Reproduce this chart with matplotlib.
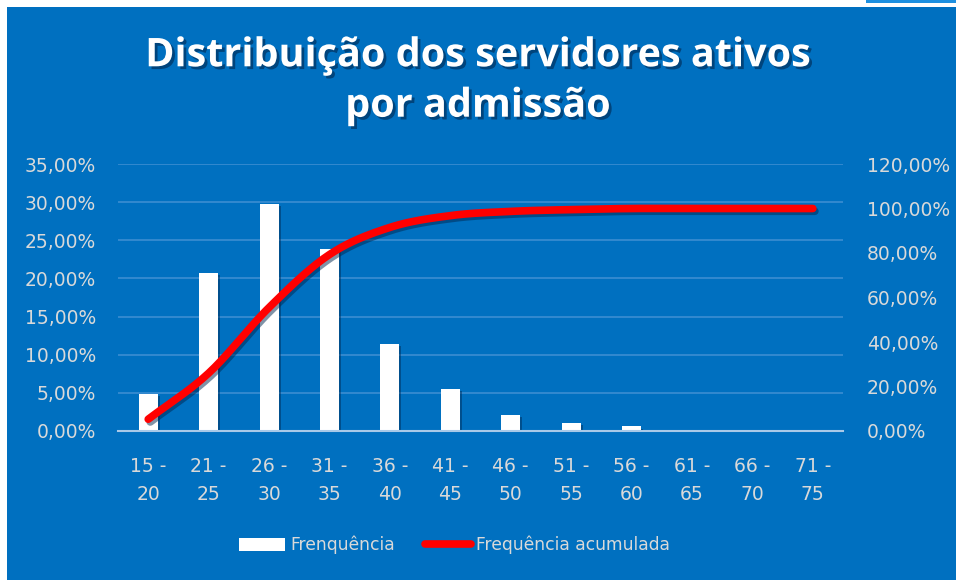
import numpy as np
import matplotlib
matplotlib.use("Agg")
import matplotlib.pyplot as plt
import matplotlib.patheffects as pe
from matplotlib.patches import Rectangle
from matplotlib.lines import Line2D
from matplotlib.ticker import FuncFormatter, MultipleLocator

categories = ["15 -\n20", "21 -\n25", "26 -\n30", "31 -\n35", "36 -\n40", "41 -\n45",
              "46 -\n50", "51 -\n55", "56 -\n60", "61 -\n65", "66 -\n70", "71 -\n75"]
frequencia = [4.85, 20.7, 29.8, 23.8, 11.4, 5.5, 2.1, 1.1, 0.6, 0.1, 0.03, 0.02]
acumulada = [5.3, 26.0, 55.5, 79.3, 91.5, 96.8, 98.7, 99.5, 100.0, 100.0, 100.0, 100.0]

title = "Distribuição dos servidores ativos\npor admissão"
label_freq = "Frenquência"
label_acum = "Frequência acumulada"

BG = "#0070C0"
TXT = "#D9D9D9"
W, H = 956, 580

fig = plt.figure(figsize=(W / 100, H / 100), dpi=100, facecolor="white")
fig.patches.append(Rectangle((7 / W, 0), 1 - 7 / W, 1 - 7 / H, transform=fig.transFigure,
                             facecolor=BG, edgecolor="none", zorder=-10))
fig.patches.append(Rectangle((866 / W, 1 - 3 / H), 1 - 866 / W, 3 / H, transform=fig.transFigure,
                             facecolor="#1E90E0", edgecolor="none", zorder=-10))

ax = fig.add_axes([118 / W, 1 - 431 / H, (843 - 118) / W, (431 - 164) / H])
ax.set_facecolor("none")
x = np.arange(len(categories))

bars = ax.bar(x, frequencia, width=0.315, color="white", zorder=3,
              path_effects=[pe.SimplePatchShadow(offset=(1.5, -1.5), shadow_rgbFace="#002850", alpha=0.45),
                            pe.Normal()])
ax.set_xlim(-0.5, len(categories) - 0.5)
ax.set_ylim(0, 35)
ax.yaxis.set_major_locator(MultipleLocator(5))
ax.yaxis.set_major_formatter(FuncFormatter(lambda v, p: f"{v:.2f}%".replace(".", ",")))
ax.grid(axis="y", color="#3C8DD2", linewidth=1.2, zorder=0)
ax.set_axisbelow(True)
for s in ["top", "right", "left"]:
    ax.spines[s].set_visible(False)
ax.spines["bottom"].set_color("#A9C9E8")
ax.spines["bottom"].set_linewidth(1.5)
ax.spines["bottom"].set_zorder(4)
ax.set_xticks(x)
ax.set_xticklabels(categories, linespacing=1.55)
ax.tick_params(axis="both", length=0, colors=TXT, labelsize=13.5)
ax.tick_params(axis="x", pad=19)
ax.tick_params(axis="y", pad=16)

ax2 = ax.twinx()
ax2.set_ylim(0, 120)
ax2.yaxis.set_major_locator(MultipleLocator(20))
ax2.yaxis.set_major_formatter(FuncFormatter(lambda v, p: f"{v:.2f}%".replace(".", ",")))
for s in ["top", "right", "left", "bottom"]:
    ax2.spines[s].set_visible(False)
ax2.tick_params(axis="y", length=0, colors=TXT, labelsize=13.5, pad=17)


# smooth curve (Catmull-Rom rendering of the read points)
def catmull(xs, ys, n=20):
    px = np.concatenate([[2 * xs[0] - xs[1]], xs, [2 * xs[-1] - xs[-2]]])
    py = np.concatenate([[2 * ys[0] - ys[1]], ys, [2 * ys[-1] - ys[-2]]])
    ox, oy = [], []
    for i in range(1, len(px) - 2):
        t = np.linspace(0, 1, n, endpoint=False)
        for arr, out in ((px, ox), (py, oy)):
            p0, p1, p2, p3 = arr[i - 1], arr[i], arr[i + 1], arr[i + 2]
            out.extend(0.5 * ((2 * p1) + (-p0 + p2) * t + (2 * p0 - 5 * p1 + 4 * p2 - p3) * t ** 2
                              + (-p0 + 3 * p1 - 3 * p2 + p3) * t ** 3))
    ox.append(xs[-1]); oy.append(ys[-1])
    return np.array(ox), np.array(oy)

cx, cy = catmull(x.astype(float), np.array(acumulada, dtype=float))
ax2.plot(cx, cy, color="#FF0000", linewidth=5.5, solid_capstyle="round", zorder=5,
         path_effects=[pe.SimpleLineShadow(offset=(1.5, -2), shadow_color="#002850", alpha=0.5),
                       pe.Normal()])

fig.text(0.5, 1 - 81 / H, title, ha="center", va="center", color="white", fontsize=28.5,
         fontweight="bold", family="Open Sans", linespacing=1.38,
         path_effects=[pe.withSimplePatchShadow(offset=(2, -2), shadow_rgbFace="#002850", alpha=0.6)])

handles = [Rectangle((0, 0), 1, 1, facecolor="white", edgecolor="none"),
           Line2D([0], [0], color="#FF0000", linewidth=5.5, solid_capstyle="round")]
leg = fig.legend(handles, [label_freq, label_acum], loc="center", bbox_to_anchor=(454.5 / W, 1 - 545 / H),
                 ncol=2, frameon=False, fontsize=12.3, handlelength=2.65, handleheight=0.8,
                 columnspacing=1.8, handletextpad=0.3)
for t in leg.get_texts():
    t.set_color(TXT)

fig.savefig("out.png", dpi=100, facecolor="white")
